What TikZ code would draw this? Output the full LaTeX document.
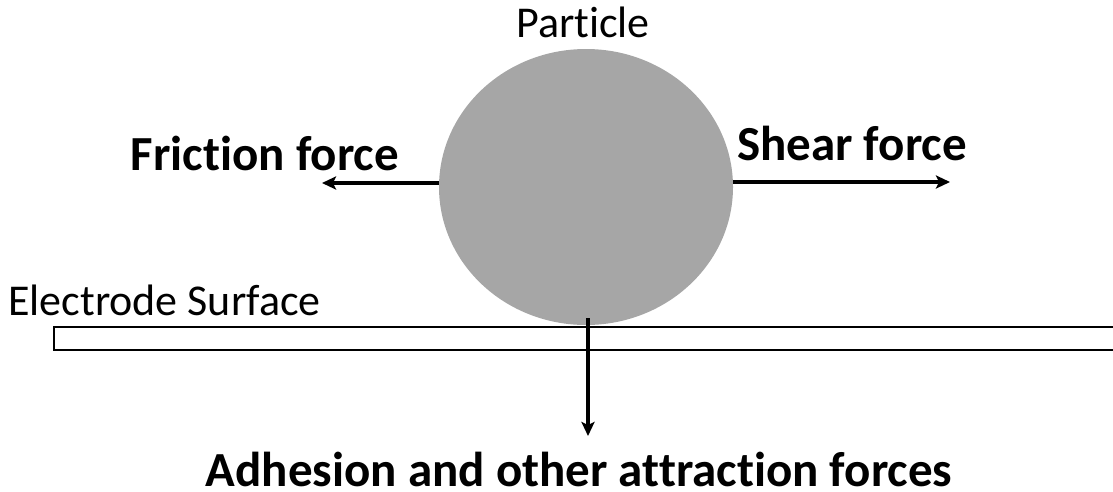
\documentclass[tikz,border=0pt]{standalone}
\usepackage{fontspec}
\setmainfont[Ligatures=NoCommon]{Carlito}
\usetikzlibrary{arrows.meta,positioning,shapes.geometric}

\begin{document}
\begin{tikzpicture}[
    x=1pt, y=-1pt,
    force/.style={-{Stealth[length=14pt,width=13pt,inset=3pt]}, line width=3.4pt},
    lbl/.style={font=\fontsize{44}{50}\selectfont, inner sep=0pt, anchor=base},
    flbl/.style={font=\fontsize{49}{56}\selectfont\bfseries, inner sep=0pt, anchor=base}
]
\useasboundingbox (0,0) rectangle (1113,491);
% surface and particle
\draw[line width=2.6pt, fill=white] (54,327) rectangle (1125,350);
\node[fill=black!35, ellipse, minimum width=294pt, minimum height=276pt, inner sep=0pt] (particle) at (586,187) {};

% labels
\node[lbl] (ptext) at (583,37) {Particle};
\node[lbl, anchor=base west] (etext) at (8,315) {Electrode Surface};
\node[flbl] (ftext) at (265,170) {Friction force};
\node[flbl] (stext) at (852,160) {Shear force};
\node[flbl] (atext) at (579,486) {Adhesion and other attraction forces};

% forces
\coordinate (fend) at (322,183);
\coordinate (send) at (950,182);
\coordinate (aend) at (588,436);
\draw[force] ([yshift=4pt]particle.west) -- (fend);
\draw[force] ([yshift=5pt]particle.east) -- (send);
\draw[force] ([xshift=2pt,yshift=7pt]particle.south) -- (aend);
\end{tikzpicture}
\end{document}
